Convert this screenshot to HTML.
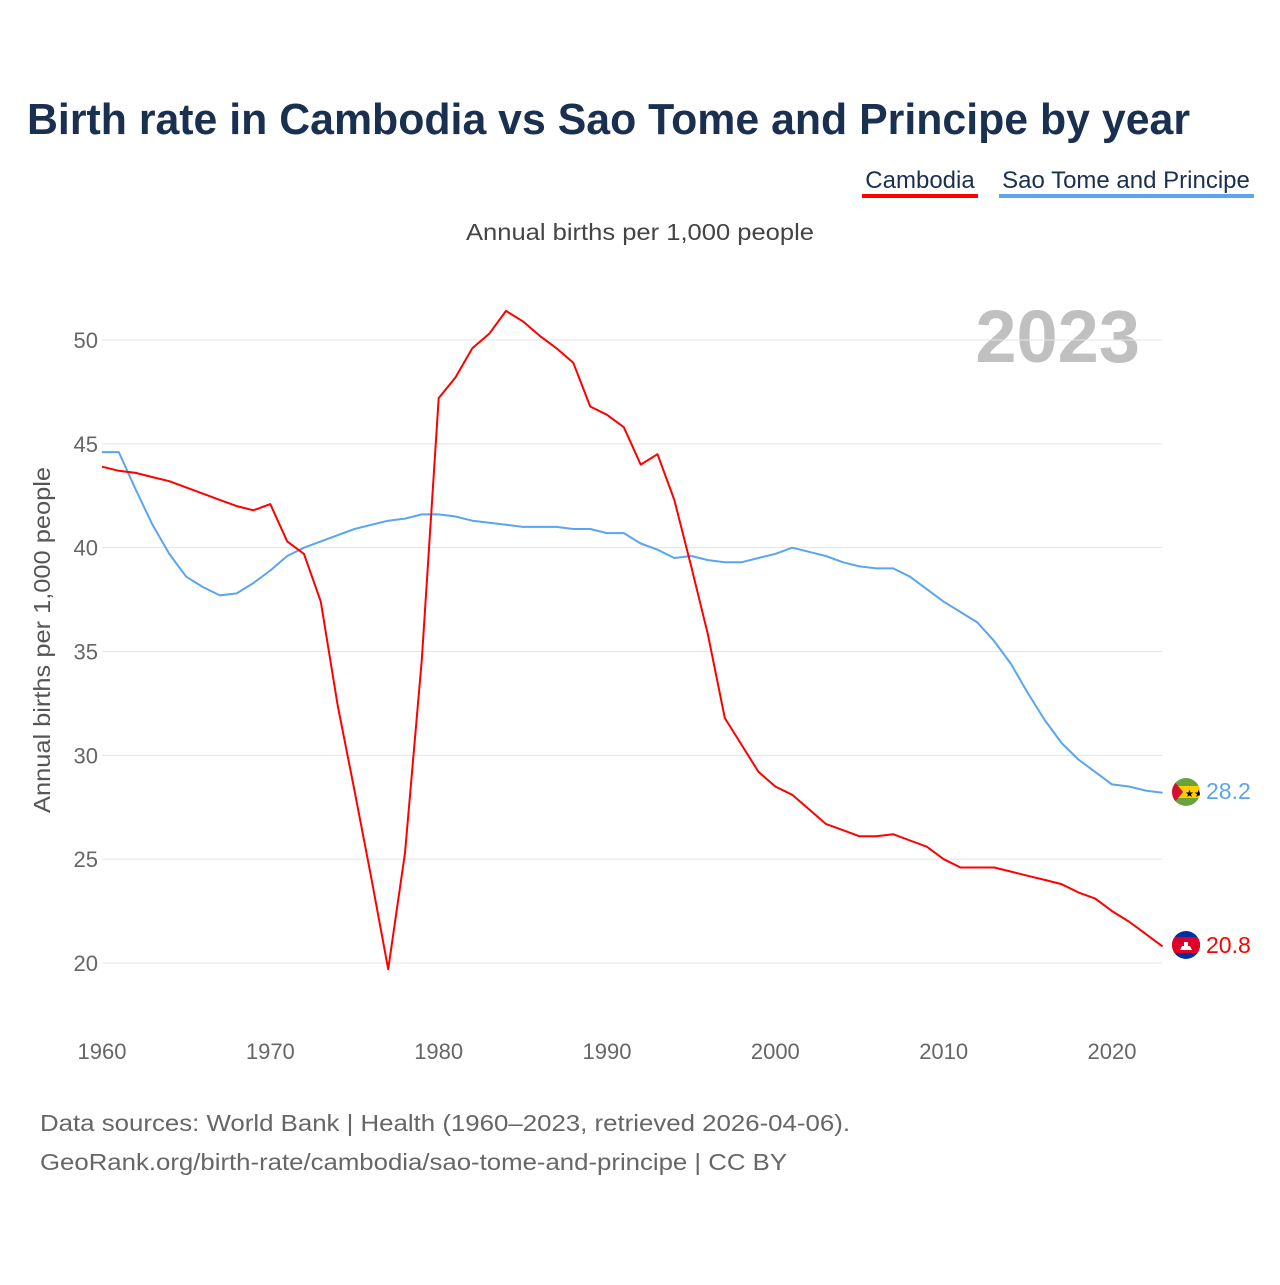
<!DOCTYPE html>
<html><head><meta charset="utf-8"><style>
body{margin:0;background:#fff;font-family:"Liberation Sans",sans-serif}
</style></head><body>
<svg width="1280" height="1280" viewBox="0 0 1280 1280" xmlns="http://www.w3.org/2000/svg">
<text x="27" y="134" font-size="44" font-weight="bold" fill="#1a3050" textLength="1163" lengthAdjust="spacingAndGlyphs">Birth rate in Cambodia vs Sao Tome and Principe by year</text>
<g>
<text x="920" y="188" font-size="24" fill="#1a3050" text-anchor="middle">Cambodia</text>
<rect x="862" y="194" width="116" height="4" fill="#ff0000"/></g>
<g>
<text x="1126" y="188" font-size="24" fill="#1a3050" text-anchor="middle">Sao Tome and Principe</text>
<rect x="999" y="194" width="255" height="4" fill="#5aa5ee"/></g>
<text x="466" y="240" font-size="23" fill="#444" textLength="348" lengthAdjust="spacingAndGlyphs">Annual births per 1,000 people</text>
<text x="1140" y="362" font-size="74" font-weight="bold" fill="#c0c0c0" text-anchor="end">2023</text>
<g id="grid"></g><g id="yt"></g><g id="xt"></g>
<text transform="translate(50,640) rotate(-90)" font-size="23" fill="#555" text-anchor="middle" textLength="346" lengthAdjust="spacingAndGlyphs">Annual births per 1,000 people</text>
<g id="lines"></g>
<g>
<clipPath id="c1"><circle cx="1186" cy="792" r="14"/></clipPath>
<g clip-path="url(#c1)"><rect x="1170" y="776" width="32" height="32" fill="#6aa33a"/><rect x="1170" y="786" width="32" height="12" fill="#ffce00"/><polygon points="1170,776 1183,792 1170,808" fill="#d21034"/><text x="1185" y="797" font-size="10" fill="#000">★★</text></g></g>
<g>
<clipPath id="c2"><circle cx="1186" cy="945" r="14"/></clipPath>
<g clip-path="url(#c2)"><rect x="1170" y="929" width="32" height="32" fill="#032ea1"/><rect x="1170" y="937" width="32" height="16" fill="#e00025"/><path d="M1180 950h12l-2-4h-8z M1184 946v-4h4v4z" fill="#fff"/></g></g>
<text x="1206" y="799" font-size="23" fill="#5aa5ee">28.2</text>
<text x="1206" y="953" font-size="23" fill="#ff0000">20.8</text>
<text x="40" y="1131" font-size="23" fill="#666" textLength="810" lengthAdjust="spacingAndGlyphs">Data sources: World Bank | Health (1960–2023, retrieved 2026-04-06).</text>
<text x="40" y="1170" font-size="23" fill="#666" textLength="747" lengthAdjust="spacingAndGlyphs">GeoRank.org/birth-rate/cambodia/sao-tome-and-principe | CC BY</text>
</svg>
<script>
const years=[];for(let y=1960;y<=2023;y++)years.push(y);
const cambodia=[43.9,43.7,43.6,43.4,43.2,42.9,42.6,42.3,42.0,41.8,42.1,40.3,39.7,37.4,32.4,28.3,24.1,19.7,25.3,34.6,47.2,48.2,49.6,50.3,51.4,50.9,50.2,49.6,48.9,46.8,46.4,45.8,44.0,44.5,42.3,39.1,35.8,31.8,30.5,29.2,28.5,28.1,27.4,26.7,26.4,26.1,26.1,26.2,25.9,25.6,25.0,24.6,24.6,24.6,24.4,24.2,24.0,23.8,23.4,23.1,22.5,22.0,21.4,20.8];
const saoTome=[44.6,44.6,42.8,41.1,39.7,38.6,38.1,37.7,37.8,38.3,38.9,39.6,40.0,40.3,40.6,40.9,41.1,41.3,41.4,41.6,41.6,41.5,41.3,41.2,41.1,41.0,41.0,41.0,40.9,40.9,40.7,40.7,40.2,39.9,39.5,39.6,39.4,39.3,39.3,39.5,39.7,40.0,39.8,39.6,39.3,39.1,39.0,39.0,38.6,38.0,37.4,36.9,36.4,35.5,34.4,33.0,31.7,30.6,29.8,29.2,28.6,28.5,28.3,28.2];
const yTicks=[20,25,30,35,40,45,50];
const xTicks=[1960,1970,1980,1990,2000,2010,2020];
const NS="http://www.w3.org/2000/svg";
const X=v=>102+(v-1960)*(1112-102)/60;
const Y=v=>963-(v-20)*(963-340)/30;
function mk(t,a,p){const e=document.createElementNS(NS,t);for(const k in a)e.setAttribute(k,a[k]);p.appendChild(e);return e;}
const grid=document.getElementById('grid'),yt=document.getElementById('yt'),xt=document.getElementById('xt'),lines=document.getElementById('lines');
yTicks.forEach(v=>{
const l=mk('line',{x1:102,x2:1162,y1:Y(v),y2:Y(v),stroke:'#e4e4e4','stroke-width':1},grid);


const t=mk('text',{x:98,y:Y(v)+8,'font-size':22,fill:'#666','text-anchor':'end'},yt);t.textContent=v;


});
xTicks.forEach(v=>{
const t=mk('text',{x:X(v),y:1059,'font-size':22,fill:'#666','text-anchor':'middle'},xt);t.textContent=v;


});
function line(d,c,n){
const p=mk('path',{d:d.map((v,i)=>(i?'L':'M')+X(years[i]).toFixed(1)+' '+Y(v).toFixed(1)).join(''),fill:'none',stroke:c,'stroke-width':2,'stroke-linejoin':'round'},lines);


}
line(saoTome,'#5aa5ee','line-sao-tome');
line(cambodia,'#ff0000','line-cambodia');
</script>
</body></html>
